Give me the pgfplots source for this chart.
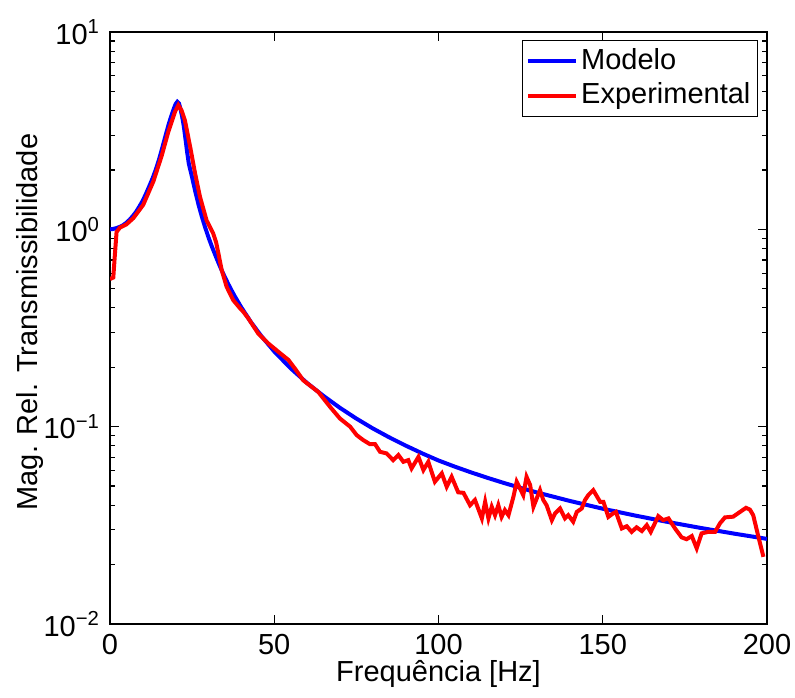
\documentclass[border=0pt]{standalone}
\usepackage{fontspec}
\setmainfont{Liberation Sans}
\usepackage{pgfplots}
\pgfplotsset{compat=1.18}
\pgfplotstableread{
f T
0 1.000
1 1.005
2 1.015
3 1.03
4 1.05
5 1.08
6 1.12
7 1.17
8 1.23
9 1.31
10 1.40
11 1.52
12 1.66
13 1.82
14 2.02
15 2.28
16 2.62
17 3.02
18 3.47
19 3.90
19.5 4.12
20 4.32
20.5 4.43
21 4.35
21.5 4.05
22 3.70
22.5 3.30
23 2.85
23.5 2.45
24 2.15
25 1.834
26 1.544
27 1.324
28 1.154
29 1.019
30 0.909
31 0.8196
32 0.7444
33 0.6775
34 0.6205
35 0.5712
36 0.5283
37 0.4906
38 0.4574
40 0.4016
43 0.3371
46 0.2888
50 0.2406
55 0.1976
60 0.1664
65 0.1431
70 0.1246
75 0.1099
80 0.0980
85 0.0883
90 0.0802
95 0.0733
100 0.0674
105 0.0627
110 0.0586
115 0.0550
120 0.0518
125 0.04895
130 0.0464
140 0.04204
150 0.0384
160 0.03542
170 0.03285
180 0.03064
190 0.02871
200 0.0270
}\modelo
\pgfplotstableread{
f T
0 0.56
1.0 0.57
1.5 0.75
2.0 0.97
3 1.02
5 1.06
7.1 1.14
10.1 1.33
13.2 1.75
15.7 2.35
17.7 3.10
19.8 3.95
20.8 4.26
21.8 4.00
22.8 3.57
24.4 2.62
25.9 1.92
27.4 1.46
29.4 1.11
31.4 0.955
32.3 0.86
33 0.755
34 0.622
35.5 0.512
37.5 0.438
39.6 0.398
40.6 0.382
42.1 0.354
45.1 0.297
48.2 0.264
51.2 0.24
54.3 0.218
56.3 0.197
58.8 0.172
63.4 0.150
67 0.126
70 0.110
73.1 0.100
75.1 0.0906
77.1 0.0855
79.1 0.0816
80.7 0.0815
82.2 0.0746
84.2 0.0732
86.2 0.0677
87.8 0.0718
89.3 0.0664
90.8 0.0677
91.8 0.0615
93.9 0.0703
95.4 0.0603
96.9 0.0664
98.9 0.0526
101 0.058
102.5 0.0496
104 0.0557
106 0.0465
107.6 0.0462
109.6 0.040
111.1 0.0425
113.2 0.0343
114.2 0.0416
115.2 0.0343
116.2 0.0393
117.2 0.0356
118.2 0.040
119.2 0.0349
120.2 0.0378
121.3 0.0356
122.8 0.0441
123.8 0.0526
124.8 0.0487
125.8 0.045
126.8 0.0557
127.9 0.0506
128.9 0.0393
130.9 0.0477
131.9 0.0425
132.9 0.040
134.5 0.0336
135.5 0.0364
137 0.0385
138.5 0.0343
139.5 0.0356
141 0.033
142.1 0.037
143.6 0.0385
144.6 0.0425
145.6 0.045
147.1 0.0477
149.2 0.0416
150.2 0.0416
151.7 0.0349
153.2 0.0364
154 0.037
155.8 0.0305
157.3 0.0313
158.8 0.0293
160.3 0.0309
161.9 0.0296
163.4 0.0317
164.6 0.0293
166.9 0.0352
168.4 0.0336
170 0.0343
172 0.0305
174 0.0275
175.5 0.0269
177.1 0.0279
178.6 0.0242
180.1 0.0288
182.1 0.0293
184.2 0.0293
185.7 0.0324
187.2 0.0347
189.7 0.035
191.8 0.037
193.6 0.0388
194.8 0.038
195.8 0.0356
197.4 0.0276
198.9 0.0219
}\experimental
\begin{document}
\fontsize{14.5}{17}\selectfont
\begin{tikzpicture}
\useasboundingbox (-55pt,-36.5pt) rectangle (342.5pt,312pt);
\begin{axis}[
  scale only axis,
  width=328.5pt, height=296pt,
  ymode=log,
  xmin=0, xmax=200, ymin=0.01, ymax=10,
  xtick={0,50,100,150,200},
  ytick={0.01,0.1,1,10},
  yticklabels={10\textsuperscript{−2},10\textsuperscript{−1},10\textsuperscript{0},10\textsuperscript{1}},
  minor ytick={0.02,0.03,0.04,0.05,0.06,0.07,0.08,0.09,0.2,0.3,0.4,0.5,0.6,0.7,0.8,0.9,2,3,4,5,6,7,8,9},
  tick align=inside,
  major tick length=4.5pt,
  minor tick length=2.5pt,
  every tick/.style={black, line width=0.6pt},
  axis line style={black, line width=0.6pt},
  /pgf/number format/assume math mode=true,
  tick label style={font=\fontsize{14.5}{17}\selectfont},
  label style={font=\fontsize{14.5}{17}\selectfont},
  xlabel={Frequência [Hz]},
  ylabel={Mag. Rel. Transmissibilidade},
  xlabel style={at={(axis description cs:0.5,-0.084)}, anchor=center, inner sep=0pt},
  ylabel style={at={(axis description cs:-0.1218,0.51)}, anchor=center},
  legend style={at={(axis description cs:1,1)}, anchor=north east, xshift=-4.5pt, yshift=-4pt,
    draw=black, line width=0.6pt, fill=white, font=\fontsize{14.5}{17}\selectfont,
    inner xsep=2pt, inner ysep=2.5pt, nodes={inner sep=1.5pt}, row sep=1.5pt},
  legend cell align=left,
  legend image code/.code={\draw[#1] (0pt,0pt) -- (24pt,0pt);},
]
\addplot[blue, line width=2pt] table[x=f, y=T] {\modelo};
\addlegendentry{Modelo}
\addplot[red, line width=2pt] table[x=f, y=T] {\experimental};
\addlegendentry{Experimental}
\end{axis}
\end{tikzpicture}
\end{document}
